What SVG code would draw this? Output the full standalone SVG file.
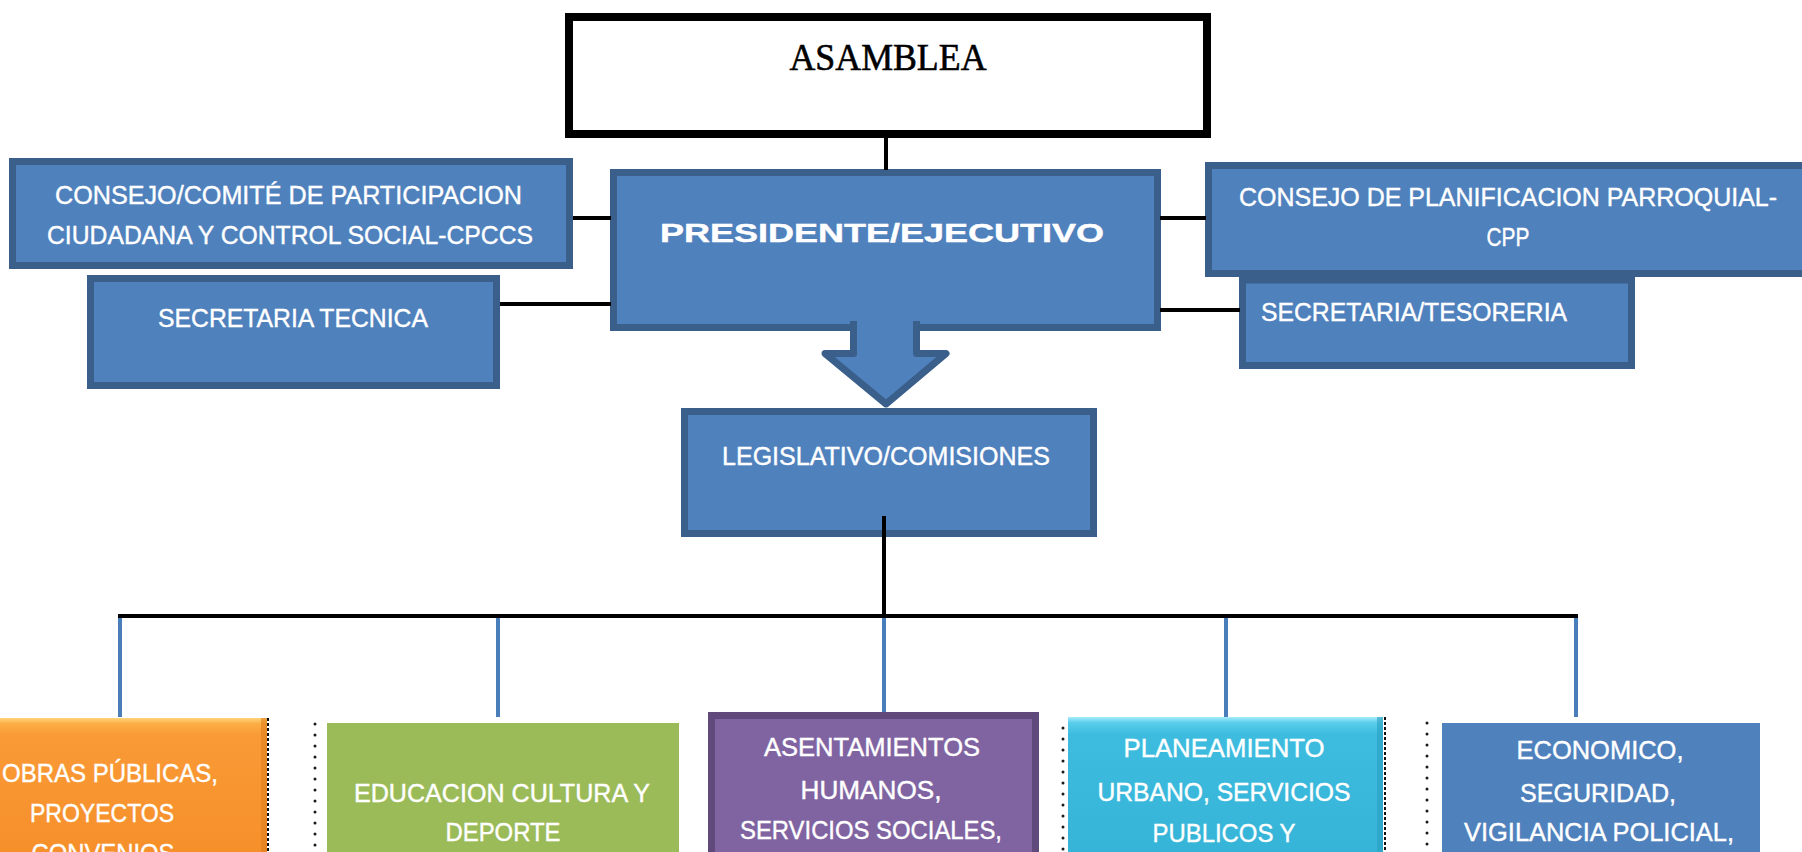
<svg xmlns="http://www.w3.org/2000/svg" width="1802" height="852" viewBox="0 0 1802 852">
<defs>
<style>
.box{fill:#4F81BD;stroke:#3A5F8B;stroke-width:7}
.flat{fill:#4F81BD}
.t{font-family:"Liberation Sans",Arial,sans-serif;fill:#FFFFFF;stroke:#FFFFFF;stroke-width:0.4;font-size:26px;text-anchor:middle}
.c{stroke:#000000;stroke-width:4;fill:none}
.d{stroke:#4A7EBB;stroke-width:4;fill:none}
.dots{stroke:#1A1A1A;stroke-width:3;stroke-linecap:round;stroke-dasharray:0 11;fill:none}
.edge{stroke:#111111;stroke-width:2;stroke-dasharray:3 2;fill:none}
</style>
<linearGradient id="gOr" gradientUnits="userSpaceOnUse" x1="0" y1="718" x2="0" y2="860">
<stop offset="0" stop-color="#FFD47C"/>
<stop offset="0.04" stop-color="#FDAE45"/>
<stop offset="0.12" stop-color="#F99A36"/>
<stop offset="1" stop-color="#F68F2A"/>
</linearGradient>
<linearGradient id="gCy" gradientUnits="userSpaceOnUse" x1="0" y1="717" x2="0" y2="860">
<stop offset="0" stop-color="#A6ECFA"/>
<stop offset="0.04" stop-color="#5ACDEB"/>
<stop offset="0.12" stop-color="#3DBCDF"/>
<stop offset="1" stop-color="#36B4D7"/>
</linearGradient>
</defs>
<rect x="0" y="0" width="1802" height="852" fill="#FFFFFF"/>

<g id="asamblea">
<rect x="569" y="17" width="638" height="117" fill="#FFFFFF" stroke="#000000" stroke-width="8"/>
<text x="888" y="70" font-family="'Liberation Serif','Times New Roman',serif" font-size="38" fill="#000000" stroke="#000000" stroke-width="0.6" text-anchor="middle" textLength="197" lengthAdjust="spacingAndGlyphs">ASAMBLEA</text>
</g>

<g id="consejo-cpccs">
<rect class="box" x="12.5" y="161.5" width="557" height="104"/>
<text class="t" x="288.5" y="204" textLength="467" lengthAdjust="spacingAndGlyphs">CONSEJO/COMITÉ DE PARTICIPACION</text>
<text class="t" x="290" y="244" textLength="486" lengthAdjust="spacingAndGlyphs">CIUDADANA Y CONTROL SOCIAL-CPCCS</text>
</g>

<g id="secretaria-tecnica">
<rect class="box" x="90.5" y="278.5" width="406" height="107"/>
<text class="t" x="293" y="327" textLength="270" lengthAdjust="spacingAndGlyphs">SECRETARIA TECNICA</text>
</g>

<g id="secretaria-tesoreria">
<rect class="box" x="1242.5" y="280" width="389" height="85.5"/>
<text class="t" x="1414" y="321" textLength="306" lengthAdjust="spacingAndGlyphs">SECRETARIA/TESORERIA</text>
</g>

<g id="consejo-cpp">
<rect class="box" x="1208.5" y="165.5" width="606" height="108"/>
<text class="t" x="1508" y="206" textLength="538" lengthAdjust="spacingAndGlyphs">CONSEJO DE PLANIFICACION PARROQUIAL-</text>
<text class="t" x="1508" y="246" textLength="43" lengthAdjust="spacingAndGlyphs">CPP</text>
</g>

<g id="presidente">
<rect class="box" x="613.5" y="172.5" width="544" height="155"/>
<text class="t" x="882" y="242" font-size="41" font-weight="bold" stroke-width="0" textLength="444" lengthAdjust="spacingAndGlyphs">PRESIDENTE/EJECUTIVO</text>
</g>

<g id="legislativo">
<rect class="box" x="684.5" y="411.5" width="409" height="122"/>
<text class="t" x="886" y="465" font-size="27" textLength="328" lengthAdjust="spacingAndGlyphs">LEGISLATIVO/COMISIONES</text>
</g>

<g id="flecha">
<path d="M853.5,321 V353.5 H825 L886,404 L946,353.5 H916.5 V321" fill="#4F81BD" stroke="#3A5F8B" stroke-width="7" stroke-linejoin="round"/>
</g>

<g id="obras-publicas">
<rect x="-60" y="718" width="327" height="200" fill="url(#gOr)"/>
<rect x="261" y="718" width="6" height="200" fill="#E07F1C" opacity="0.6"/>
<line class="edge" x1="268" y1="718" x2="268" y2="852"/>
<text class="t" x="110" y="782" textLength="216" lengthAdjust="spacingAndGlyphs">OBRAS PÚBLICAS,</text>
<text class="t" x="102" y="822" textLength="144" lengthAdjust="spacingAndGlyphs">PROYECTOS</text>
<text class="t" x="103" y="862" textLength="143" lengthAdjust="spacingAndGlyphs">CONVENIOS</text>
</g>

<g id="educacion">
<line class="dots" x1="315" y1="724" x2="315" y2="852"/>
<rect x="327" y="723" width="352" height="200" fill="#9BBB59"/>
<text class="t" x="502" y="802" textLength="296" lengthAdjust="spacingAndGlyphs">EDUCACION CULTURA Y</text>
<text class="t" x="503" y="841" textLength="115" lengthAdjust="spacingAndGlyphs">DEPORTE</text>
</g>

<g id="asentamientos">
<rect x="711.5" y="715.5" width="324" height="200" fill="#8064A2" stroke="#5F4A7B" stroke-width="7"/>
<text class="t" x="872" y="756" textLength="216" lengthAdjust="spacingAndGlyphs">ASENTAMIENTOS</text>
<text class="t" x="871" y="799" textLength="141" lengthAdjust="spacingAndGlyphs">HUMANOS,</text>
<text class="t" x="871" y="839" textLength="262" lengthAdjust="spacingAndGlyphs">SERVICIOS SOCIALES,</text>
</g>

<g id="planeamiento">
<line class="dots" x1="1063" y1="728" x2="1063" y2="852"/>
<rect x="1068" y="717" width="315" height="200" fill="url(#gCy)"/>
<rect x="1377" y="717" width="6" height="200" fill="#2A9FC0" opacity="0.6"/>
<line class="edge" x1="1385" y1="717" x2="1385" y2="852"/>
<text class="t" x="1224" y="757" textLength="201" lengthAdjust="spacingAndGlyphs">PLANEAMIENTO</text>
<text class="t" x="1224" y="801" textLength="253" lengthAdjust="spacingAndGlyphs">URBANO, SERVICIOS</text>
<text class="t" x="1224" y="842" textLength="143" lengthAdjust="spacingAndGlyphs">PUBLICOS Y</text>
</g>

<g id="economico">
<line class="dots" x1="1427" y1="723" x2="1427" y2="852"/>
<rect class="flat" x="1442" y="723" width="318" height="200"/>
<text class="t" x="1600" y="759" textLength="167" lengthAdjust="spacingAndGlyphs">ECONOMICO,</text>
<text class="t" x="1598" y="802" textLength="156" lengthAdjust="spacingAndGlyphs">SEGURIDAD,</text>
<text class="t" x="1599" y="841" textLength="270" lengthAdjust="spacingAndGlyphs">VIGILANCIA POLICIAL,</text>
</g>

<g id="connectors">
<line class="c" x1="886" y1="137" x2="886" y2="170"/>
<line class="c" x1="573" y1="218" x2="611" y2="218"/>
<line class="c" x1="500" y1="304" x2="611" y2="304"/>
<line class="c" x1="1160" y1="218" x2="1206" y2="218"/>
<line class="c" x1="1160" y1="310" x2="1240" y2="310"/>
<line class="c" x1="884" y1="516" x2="884" y2="616" stroke-width="3"/>
<line class="c" x1="118" y1="616" x2="1578" y2="616" stroke-width="5"/>
<line class="d" x1="120" y1="618" x2="120" y2="717"/>
<line class="d" x1="498" y1="618" x2="498" y2="717"/>
<line class="d" x1="884" y1="618" x2="884" y2="712" stroke-width="2.5"/>
<line class="d" x1="1226" y1="618" x2="1226" y2="717" stroke-width="2.5"/>
<line class="d" x1="1576" y1="618" x2="1576" y2="717"/>
</g>
</svg>
